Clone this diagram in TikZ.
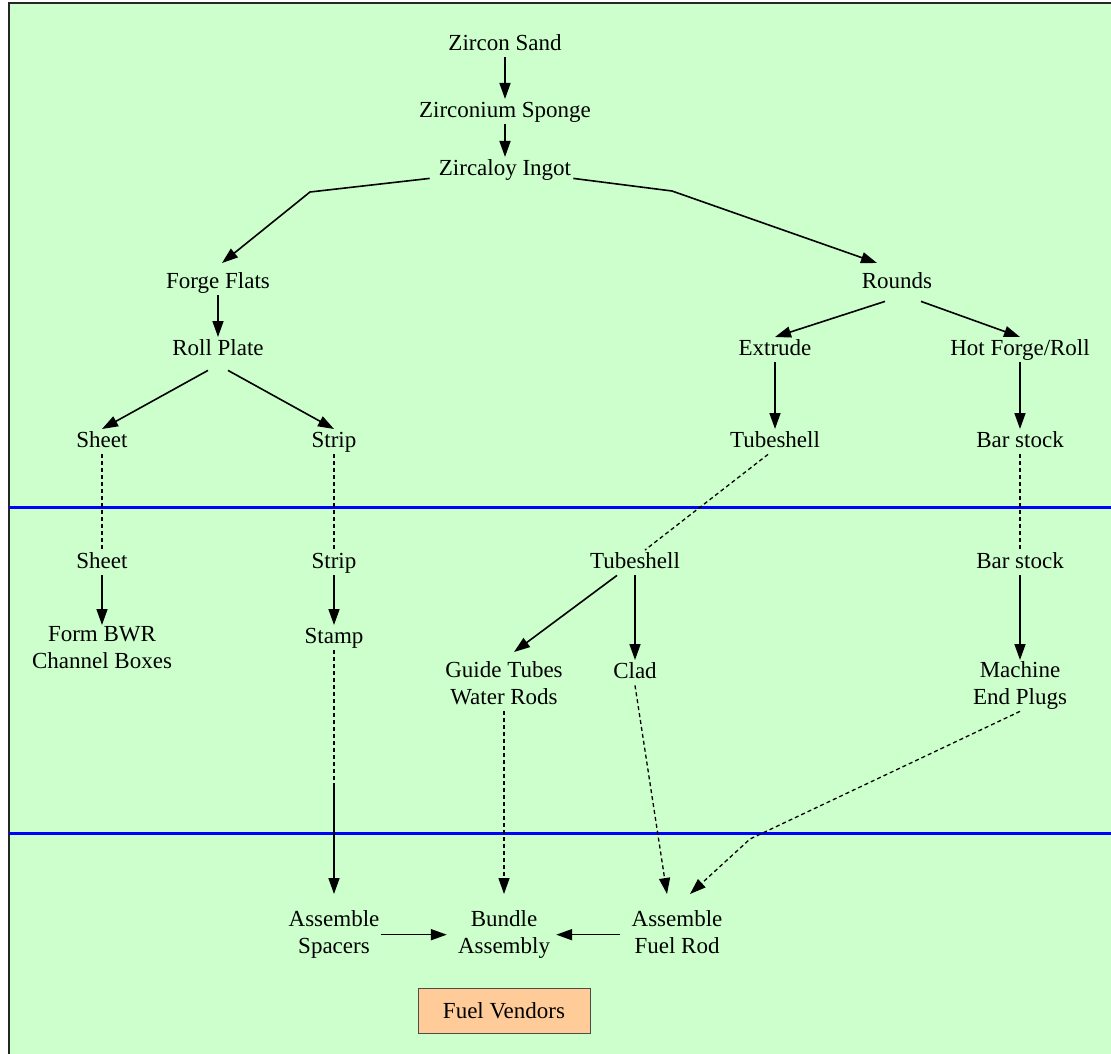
\documentclass[tikz,border=0pt]{standalone}
\usepackage{fontspec}
\setmainfont{Liberation Serif}
\usepackage{xcolor}
\usepackage{tikz}
\usetikzlibrary{arrows.meta}
\definecolor{mintbg}{RGB}{204,255,204}
\definecolor{vendfill}{RGB}{255,204,153}
\newcommand{\zstrut}{\rule[-6pt]{0pt}{23pt}}

\begin{document}
\begin{tikzpicture}[x=1pt,y=-1pt,
    lbl/.style={anchor=north,align=center,inner sep=1pt,font=\fontsize{23}{27}\selectfont,
      execute at begin node=\zstrut,execute at end node=\zstrut},
    vend/.style={draw=black!70,fill=vendfill,line width=0.8pt,font=\fontsize{23}{27}\selectfont,
      minimum width=172pt,minimum height=45pt,inner sep=0pt},
    arr/.style={-{Triangle[length=16pt,width=11pt]},line width=1.6pt},
    dsh/.style={line width=1.3pt,dash pattern=on 4pt off 3pt},
    dar/.style={dsh,-{Triangle[length=16pt,width=11pt]}},
    sep/.style={blue,line width=3pt}]
  \useasboundingbox (0,0) rectangle (1111,1054);
  \fill[mintbg] (9,3) rectangle (1111,1054);
  \draw[black!85,line width=2pt] (9,1054) -- (9,3) -- (1111,3);
  \draw[sep] (9,507) -- (1111,507);
  \draw[sep] (9,833) -- (1111,833);
  % mill
  \node[lbl] (zs) at (505,32) {Zircon Sand};
  \node[lbl] (zsp) at (505,99) {Zirconium Sponge};
  \node[lbl] (ing) at (505,157) {Zircaloy Ingot};
  \node[lbl] (ff) at (218,270) {Forge Flats};
  \node[lbl] (rd) at (897,270) {Rounds};
  \node[lbl] (rp) at (218,337) {Roll Plate};
  \node[lbl] (ex) at (775,337) {Extrude};
  \node[lbl] (hf) at (1020,337) {Hot Forge/Roll};
  \node[lbl] (sh1) at (102,429) {Sheet};
  \node[lbl] (sp1) at (334,429) {Strip};
  \node[lbl] (ts1) at (775,429) {Tubeshell};
  \node[lbl] (bs1) at (1020,429) {Bar stock};
  % fabricator
  \node[lbl] (sh2) at (102,550) {Sheet};
  \node[lbl] (sp2) at (334,550) {Strip};
  \node[lbl] (ts2) at (635,550) {Tubeshell};
  \node[lbl] (bs2) at (1020,550) {Bar stock};
  \node[lbl] (fb) at (102,625) {Form BWR\\Channel Boxes};
  \node[lbl] (stm) at (334,625) {Stamp};
  \node[lbl] (gt) at (504,660) {Guide Tubes\\Water Rods};
  \node[lbl] (cl) at (635,660) {Clad};
  \node[lbl] (mc) at (1020,660) {Machine\\End Plugs};
  % vendor
  \node[lbl] (as) at (334,909) {Assemble\\Spacers};
  \node[lbl] (bu) at (504,909) {Bundle\\Assembly};
  \node[lbl] (fr) at (677,909) {Assemble\\Fuel Rod};
  \node[vend] (fv) at (504,1010.5) {Fuel Vendors};
  \coordinate (kl) at (310,192);
  \coordinate (kr) at (672,191);
  \coordinate (km) at (750,839);
  \coordinate (cut) at (334,800);
  \draw[arr] (zs) -- (zsp);
  \draw[arr] (zsp) -- (ing);
  \draw[arr] ([xshift=-8pt,yshift=4pt]ing.south west) -- (kl) -- ([xshift=4pt,yshift=7pt]ff.north);
  \draw[arr] ([xshift=1pt,yshift=4pt]ing.south east) -- (kr) -- ([xshift=-20pt,yshift=7pt]rd.north);
  \draw[arr] (ff) -- (rp);
  \draw[arr] ([xshift=-12pt,yshift=-6pt]rd.south) -- (ex.north);
  \draw[arr] ([xshift=24pt,yshift=-6pt]rd.south) -- (hf.north);
  \draw[arr] ([xshift=-10pt,yshift=-8pt]rp.south) -- (sh1.north);
  \draw[arr] ([xshift=10pt,yshift=-8pt]rp.south) -- (sp1.north);
  \draw[arr] (ex) -- (ts1);
  \draw[arr] (hf) -- (bs1);
  \draw[dsh] (sh1) -- (sh2);
  \draw[dsh] (sp1) -- (sp2);
  \draw[dsh] ([xshift=-7pt]ts1.south) -- ([xshift=10pt]ts2.north);
  \draw[dsh] (bs1) -- (bs2);
  \draw[arr] (sh2) -- (fb);
  \draw[arr] (sp2) -- (stm);
  \draw[arr] ([xshift=-18pt]ts2.south) -- ([xshift=10pt,yshift=8pt]gt.north);
  \draw[arr] (ts2) -- (cl);
  \draw[arr] (bs2) -- (mc);
  \draw[dsh] (stm.south) -- (cut);
  \draw[arr] ([yshift=17pt]cut) -- ([yshift=15pt]as.north);
  \draw[dar] (gt.south) -- ([yshift=15pt]bu.north);
  \draw[dar] (cl.south) -- ([xshift=-10pt,yshift=15pt]fr.north);
  \draw[dar] (mc.south) -- (km) -- ([xshift=13pt,yshift=15pt]fr.north);
  \draw[arr,shorten >=10pt] (as.east) -- (bu.west);
  \draw[arr,shorten <=10pt,shorten >=5pt] (fr.west) -- (bu.east);
\end{tikzpicture}
\end{document}
